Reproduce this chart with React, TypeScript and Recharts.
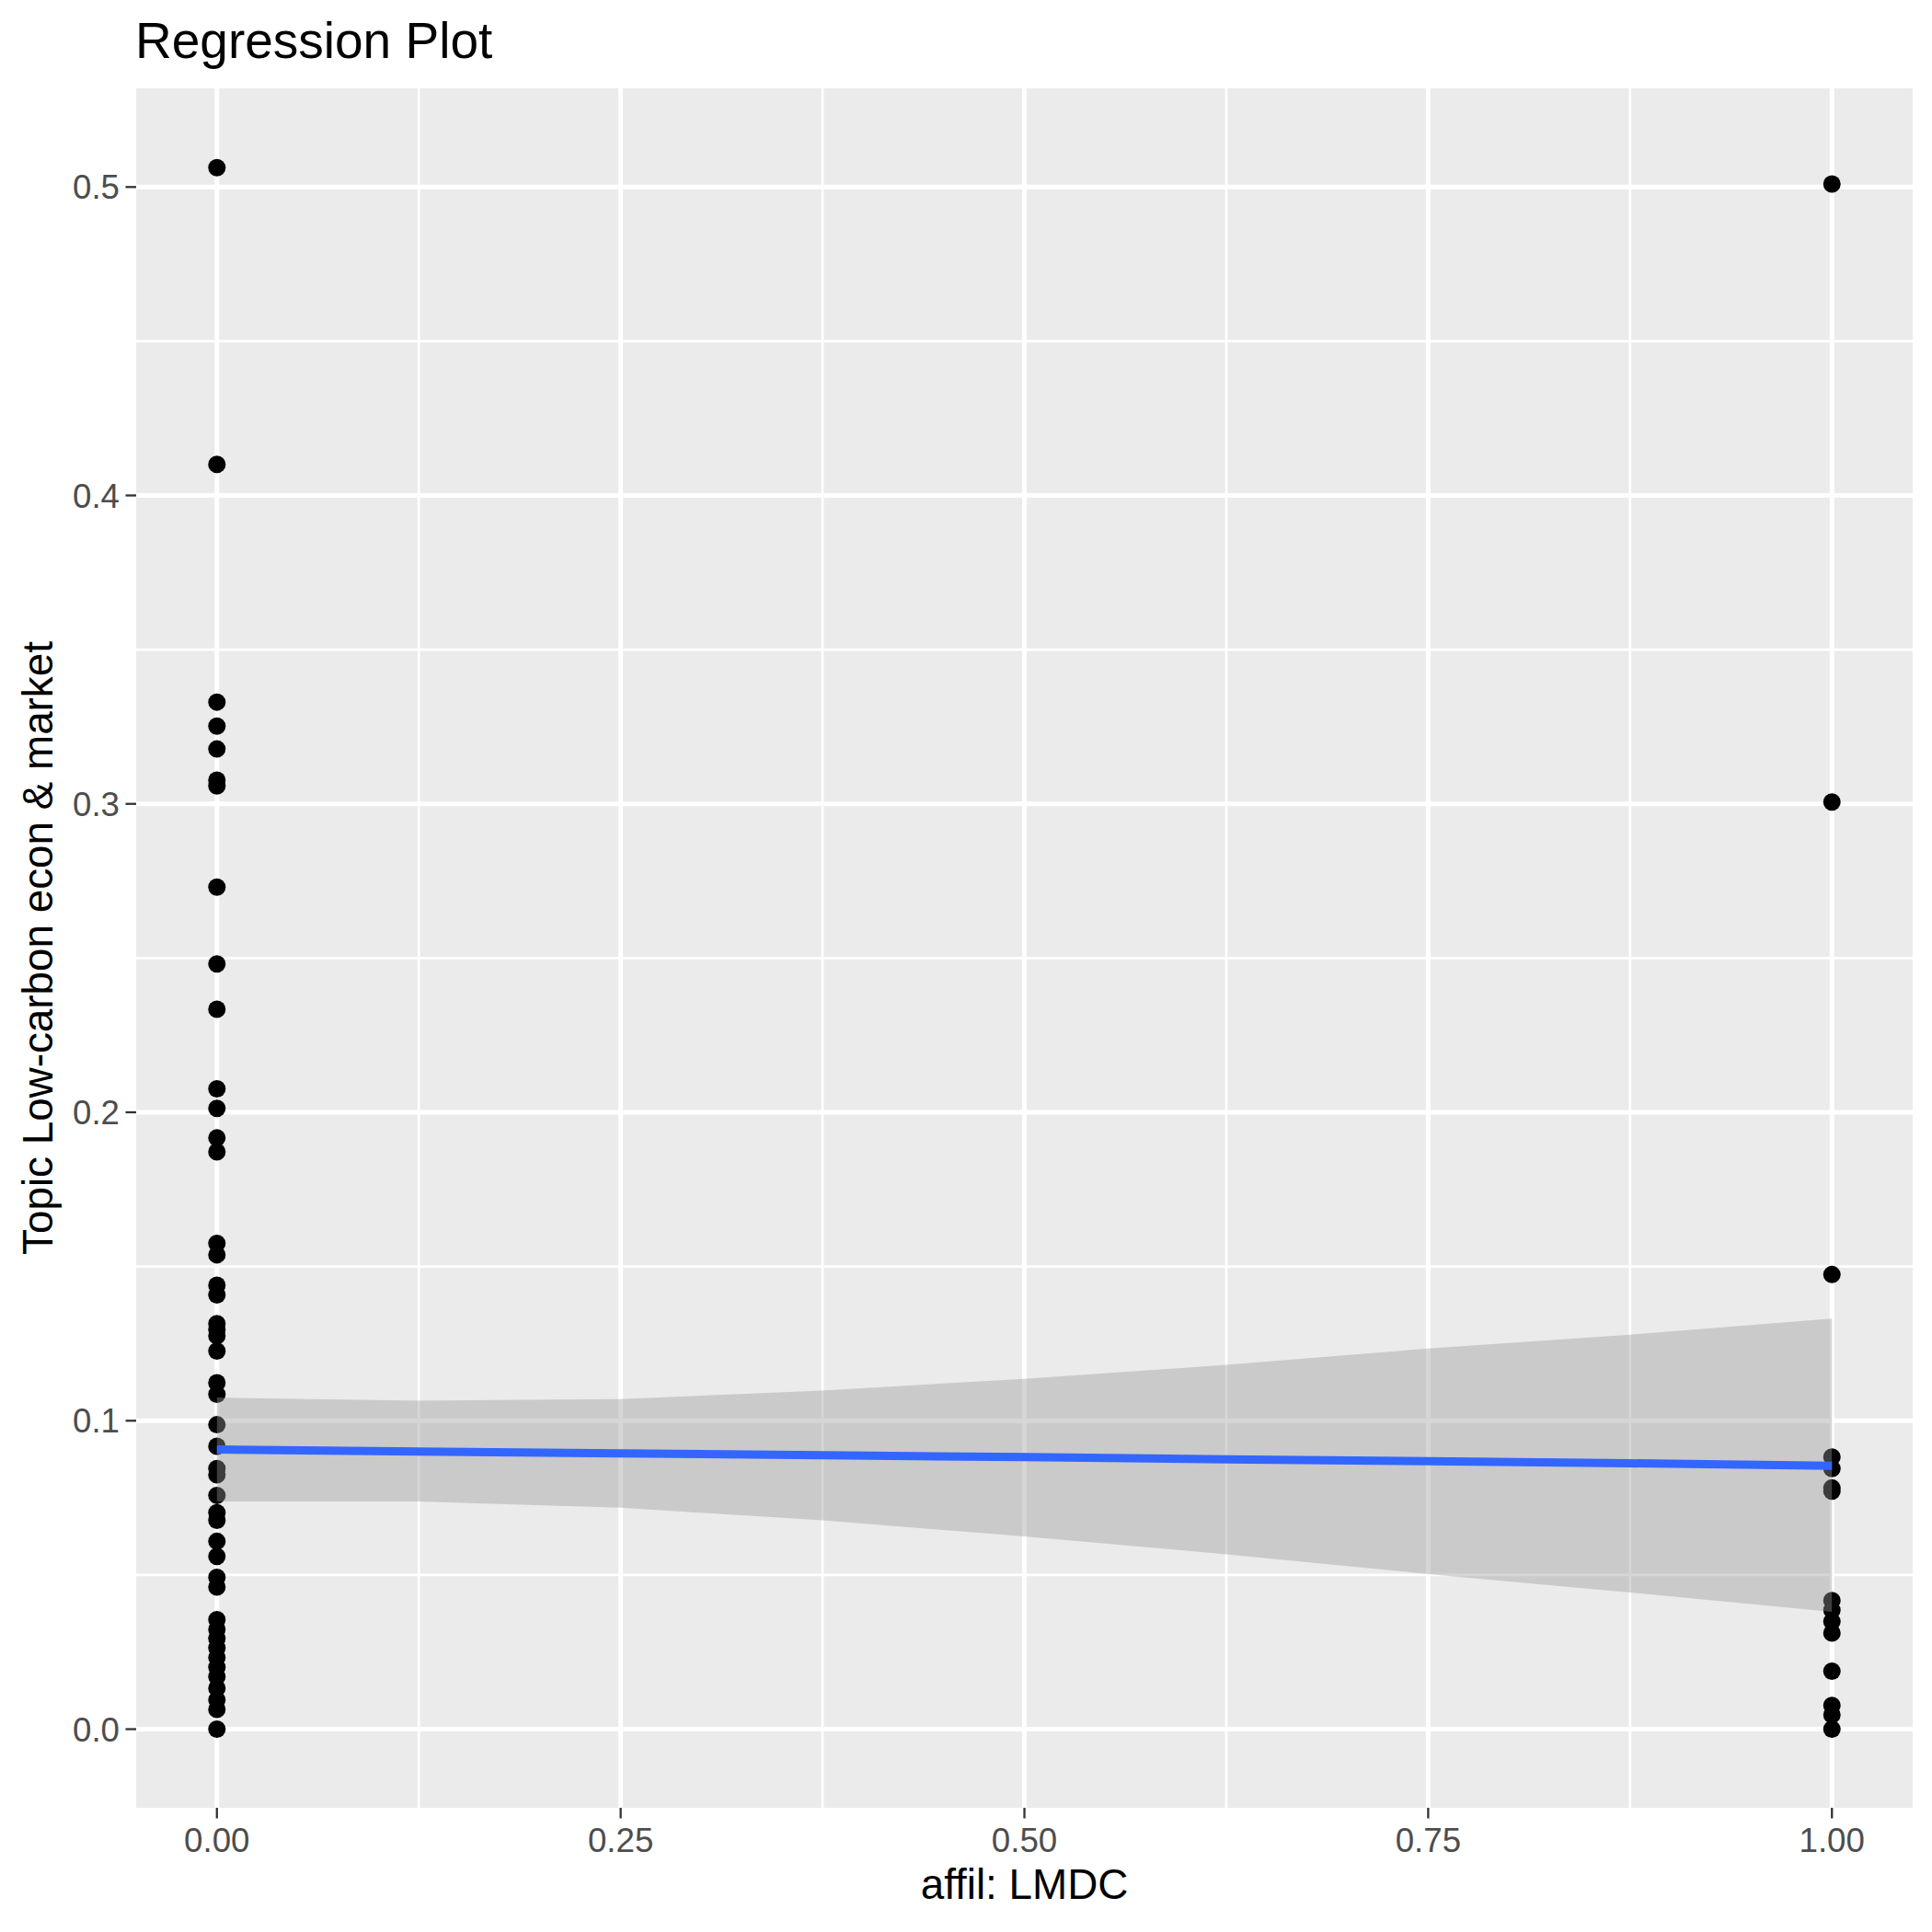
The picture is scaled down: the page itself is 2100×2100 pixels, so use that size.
import React from 'react';
import { ComposedChart, XAxis, YAxis, CartesianGrid, Scatter, Area, Line } from 'recharts';

// points
const lmdc0Values = [
  0.5063, 0.4101, 0.333, 0.3252, 0.3178, 0.3077, 0.3058, 0.273, 0.2481, 0.2334,
  0.2076, 0.2013, 0.1917, 0.1872, 0.1575, 0.1538, 0.1439, 0.1408, 0.1315, 0.1295,
  0.1275, 0.1226, 0.1123, 0.1086, 0.0987, 0.0917, 0.0845, 0.0825, 0.0758, 0.0702,
  0.0677, 0.0609, 0.056, 0.0492, 0.0461, 0.0355, 0.0324, 0.0294, 0.0263, 0.0232,
  0.0201, 0.017, 0.0133, 0.0095, 0.0064, 0.0,
];
const lmdc1Values = [
  0.501, 0.3006, 0.1474, 0.0882, 0.0845, 0.0782, 0.0772, 0.0417, 0.0386, 0.0349,
  0.0312, 0.0188, 0.0077, 0.0046, 0.0,
];

// smoother: fit line and confidence band
const bandX = [0, 0.125, 0.25, 0.375, 0.5, 0.625, 0.75, 0.875, 1];
const fitLine = [0.0907, 0.09, 0.0894, 0.0888, 0.0882, 0.0875, 0.0869, 0.0862, 0.0854];
const bandLow = [0.0738, 0.0738, 0.0718, 0.0677, 0.0625, 0.0567, 0.0503, 0.0443, 0.038];
const bandHigh = [0.1075, 0.1065, 0.107, 0.1098, 0.1136, 0.1181, 0.1234, 0.1279, 0.1331];

const xTicks = [0, 0.25, 0.5, 0.75, 1];
const xMinor = [0.125, 0.375, 0.625, 0.875];
const yTicks = [0, 0.1, 0.2, 0.3, 0.4, 0.5];
const yMinor = [0.05, 0.15, 0.25, 0.35, 0.45];

const W = 2100, H = 2100;
const PANEL = { left: 148, right: 2079, top: 96, bottom: 1965 };
const FONT = '"Liberation Sans", Arial, Helvetica, sans-serif';

const chartData = bandX.map((x, i) => ({ x, band: [bandLow[i], bandHigh[i]], fit: fitLine[i] }));
const points = [
  ...lmdc0Values.map((y) => ({ x: 0, y })),
  ...lmdc1Values.map((y) => ({ x: 1, y })),
];

const XTick = (props: any) => {
  const { x, payload } = props;
  return (
    <g>
      <line x1={x} x2={x} y1={PANEL.bottom} y2={PANEL.bottom + 11.5} stroke="#333333" strokeWidth={2.3} />
      <text x={x} y={2013} textAnchor="middle" fill="#4D4D4D" fontSize={36.7} fontFamily={FONT}>
        {Number(payload.value).toFixed(2)}
      </text>
    </g>
  );
};

const YTick = (props: any) => {
  const { y, payload } = props;
  return (
    <g>
      <line x1={PANEL.left - 11.5} x2={PANEL.left} y1={y} y2={y} stroke="#333333" strokeWidth={2.3} />
      <text x={130} y={y} dy="0.36em" textAnchor="end" fill="#4D4D4D" fontSize={36.7} fontFamily={FONT}>
        {Number(payload.value).toFixed(1)}
      </text>
    </g>
  );
};

const dot = (props: any) => <circle cx={props.cx} cy={props.cy} r={9.5} fill="#000000" />;

export default function App() {
  return (
    <div style={{ position: 'absolute', left: 0, top: 0, width: W, height: H, background: '#ffffff' }}>
      <ComposedChart
        width={W}
        height={H}
        data={chartData}
        margin={{ top: PANEL.top, right: W - PANEL.right, bottom: 0, left: 0 }}
      >
        <CartesianGrid
          fill="#EBEBEB"
          stroke="#FFFFFF"
          strokeWidth={2.7}
          horizontalValues={yMinor}
          verticalValues={xMinor}
        />
        <CartesianGrid
          stroke="#FFFFFF"
          strokeWidth={5}
          horizontalValues={yTicks}
          verticalValues={xTicks}
        />
        <XAxis
          type="number"
          dataKey="x"
          domain={[-0.05, 1.05]}
          ticks={xTicks}
          interval={0}
          allowDataOverflow
          height={H - PANEL.bottom}
          axisLine={false}
          tickLine={false}
          tick={<XTick />}
        />
        <YAxis
          type="number"
          domain={[-0.0255, 0.532]}
          ticks={yTicks}
          interval={0}
          allowDataOverflow
          width={PANEL.left}
          axisLine={false}
          tickLine={false}
          tick={<YTick />}
        />
        <Scatter data={points} dataKey="y" shape={dot} zIndex={50} isAnimationActive={false} />
        <Area
          dataKey="band"
          type="linear"
          stroke="none"
          fill="#999999"
          fillOpacity={0.4}
          zIndex={100}
          isAnimationActive={false}
        />
        <Line
          dataKey="fit"
          type="linear"
          stroke="#3366FF"
          strokeWidth={9}
          dot={false}
          activeDot={false}
          zIndex={400}
          isAnimationActive={false}
        />
      </ComposedChart>
      <svg
        width={W}
        height={H}
        style={{ position: 'absolute', left: 0, top: 0, pointerEvents: 'none' }}
      >
        <text x={147} y={63} fontSize={55} fill="#000000" fontFamily={FONT}>
          Regression Plot
        </text>
        <text x={(PANEL.left + PANEL.right) / 2} y={2064} fontSize={45.8} textAnchor="middle" fill="#000000" fontFamily={FONT}>
          affil: LMDC
        </text>
        <text
          transform={`translate(57, ${(PANEL.top + PANEL.bottom) / 2}) rotate(-90)`}
          fontSize={45.8}
          textAnchor="middle"
          fill="#000000"
          fontFamily={FONT}
        >
          Topic Low-carbon econ &amp; market
        </text>
      </svg>
    </div>
  );
}
